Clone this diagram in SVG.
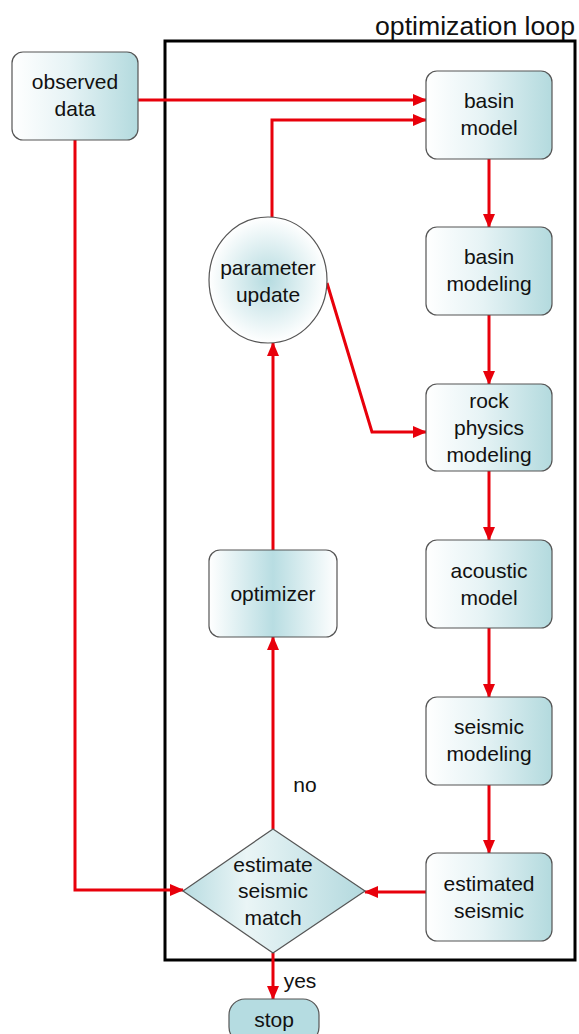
<svg xmlns="http://www.w3.org/2000/svg" width="579" height="1034" viewBox="0 0 579 1034">
<defs>
<linearGradient id="gBox" x1="0" y1="0" x2="1" y2="0">
<stop offset="0" stop-color="#ffffff"/>
<stop offset="0.45" stop-color="#e6f3f5"/>
<stop offset="1" stop-color="#b3dade"/>
</linearGradient>
<linearGradient id="gOpt" x1="0" y1="0" x2="1" y2="0">
<stop offset="0" stop-color="#ffffff"/>
<stop offset="0.5" stop-color="#b8dde2"/>
<stop offset="1" stop-color="#ffffff"/>
</linearGradient>
<radialGradient id="gCirc" cx="0.5" cy="0.5" r="0.5">
<stop offset="0" stop-color="#b5dbe0"/>
<stop offset="1" stop-color="#ffffff"/>
</radialGradient>
<linearGradient id="gDia" x1="0" y1="0" x2="1" y2="0">
<stop offset="0" stop-color="#b8dce1"/>
<stop offset="0.35" stop-color="#eaf5f6"/>
<stop offset="1" stop-color="#b3d9de"/>
</linearGradient>
<marker id="arr" markerWidth="14" markerHeight="12" refX="13" refY="6" orient="auto" markerUnits="userSpaceOnUse">
<path d="M0,0 L14,6 L0,12 Z" fill="#e8000b"/>
</marker>
</defs>
<style>
.box{fill:url(#gBox);stroke:#555;stroke-width:1.2}
.t{font-family:"Liberation Sans",Arial,sans-serif;font-size:21px;fill:#111;text-anchor:middle}
.c{fill:none;stroke:#e8000b;stroke-width:3}
</style>
<rect width="579" height="1034" fill="#ffffff"/>
<g id="frame">
<rect x="165" y="41" width="410" height="919" fill="none" stroke="#000" stroke-width="3"/>
<text x="375" y="35" textLength="200" lengthAdjust="spacingAndGlyphs" style="font-family:'Liberation Sans',Arial,sans-serif;font-size:25px;fill:#111">optimization loop</text>
</g>
<g id="connectors">
<path class="c" d="M137,100 H426" marker-end="url(#arr)"/>
<path class="c" d="M272,218 V120 H426" marker-end="url(#arr)"/>
<path class="c" d="M489,159 V227" marker-end="url(#arr)"/>
<path class="c" d="M489,315 V384" marker-end="url(#arr)"/>
<path class="c" d="M327,283 L372,432 H426" marker-end="url(#arr)"/>
<path class="c" d="M489,471 V540" marker-end="url(#arr)"/>
<path class="c" d="M489,628 V697" marker-end="url(#arr)"/>
<path class="c" d="M489,785 V853" marker-end="url(#arr)"/>
<path class="c" d="M426,892 H365" marker-end="url(#arr)"/>
<path class="c" d="M75,139 V890 H183" marker-end="url(#arr)"/>
<path class="c" d="M273,829 V637" marker-end="url(#arr)"/>
<path class="c" d="M273,550 V343" marker-end="url(#arr)"/>
<path class="c" d="M273,953 V999" marker-end="url(#arr)"/>
<text class="t" x="305" y="792">no</text>
<text class="t" x="300" y="988">yes</text>
</g>
<g id="observed">
<rect class="box" x="12" y="52" width="126" height="88" rx="11"/>
<text class="t" x="75" y="89">observed</text>
<text class="t" x="75" y="116">data</text>
</g>
<g id="basinModel">
<rect class="box" x="426" y="71" width="126" height="88" rx="11"/>
<text class="t" x="489" y="108">basin</text>
<text class="t" x="489" y="135">model</text>
</g>
<g id="basinModeling">
<rect class="box" x="426" y="227" width="126" height="88" rx="11"/>
<text class="t" x="489" y="264">basin</text>
<text class="t" x="489" y="291">modeling</text>
</g>
<g id="rockPhysics">
<rect class="box" x="426" y="384" width="126" height="87" rx="11"/>
<text class="t" x="489" y="408">rock</text>
<text class="t" x="489" y="435">physics</text>
<text class="t" x="489" y="462">modeling</text>
</g>
<g id="acoustic">
<rect class="box" x="426" y="540" width="126" height="88" rx="11"/>
<text class="t" x="489" y="578">acoustic</text>
<text class="t" x="489" y="605">model</text>
</g>
<g id="seismicModeling">
<rect class="box" x="426" y="697" width="126" height="88" rx="11"/>
<text class="t" x="489" y="734">seismic</text>
<text class="t" x="489" y="761">modeling</text>
</g>
<g id="estimatedSeismic">
<rect class="box" x="426" y="853" width="126" height="88" rx="11"/>
<text class="t" x="489" y="891">estimated</text>
<text class="t" x="489" y="918">seismic</text>
</g>
<g id="paramUpdate">
<ellipse cx="268" cy="280" rx="59" ry="63" fill="url(#gCirc)" stroke="#555" stroke-width="1.2"/>
<text class="t" x="268" y="275">parameter</text>
<text class="t" x="268" y="302">update</text>
</g>
<g id="optimizer">
<rect x="209" y="550" width="128" height="87" rx="11" fill="url(#gOpt)" stroke="#555" stroke-width="1.2"/>
<text class="t" x="273" y="601">optimizer</text>
</g>
<g id="estimateMatch">
<polygon points="273,829 365,891 273,953 183,891" fill="url(#gDia)" stroke="#555" stroke-width="1.2"/>
<text class="t" x="273" y="872">estimate</text>
<text class="t" x="273" y="898">seismic</text>
<text class="t" x="273" y="925">match</text>
</g>
<g id="stop">
<rect x="229" y="999" width="90" height="44" rx="16" fill="#b5dce1" stroke="#555" stroke-width="1.2"/>
<text class="t" x="274" y="1027">stop</text>
</g>
</svg>
